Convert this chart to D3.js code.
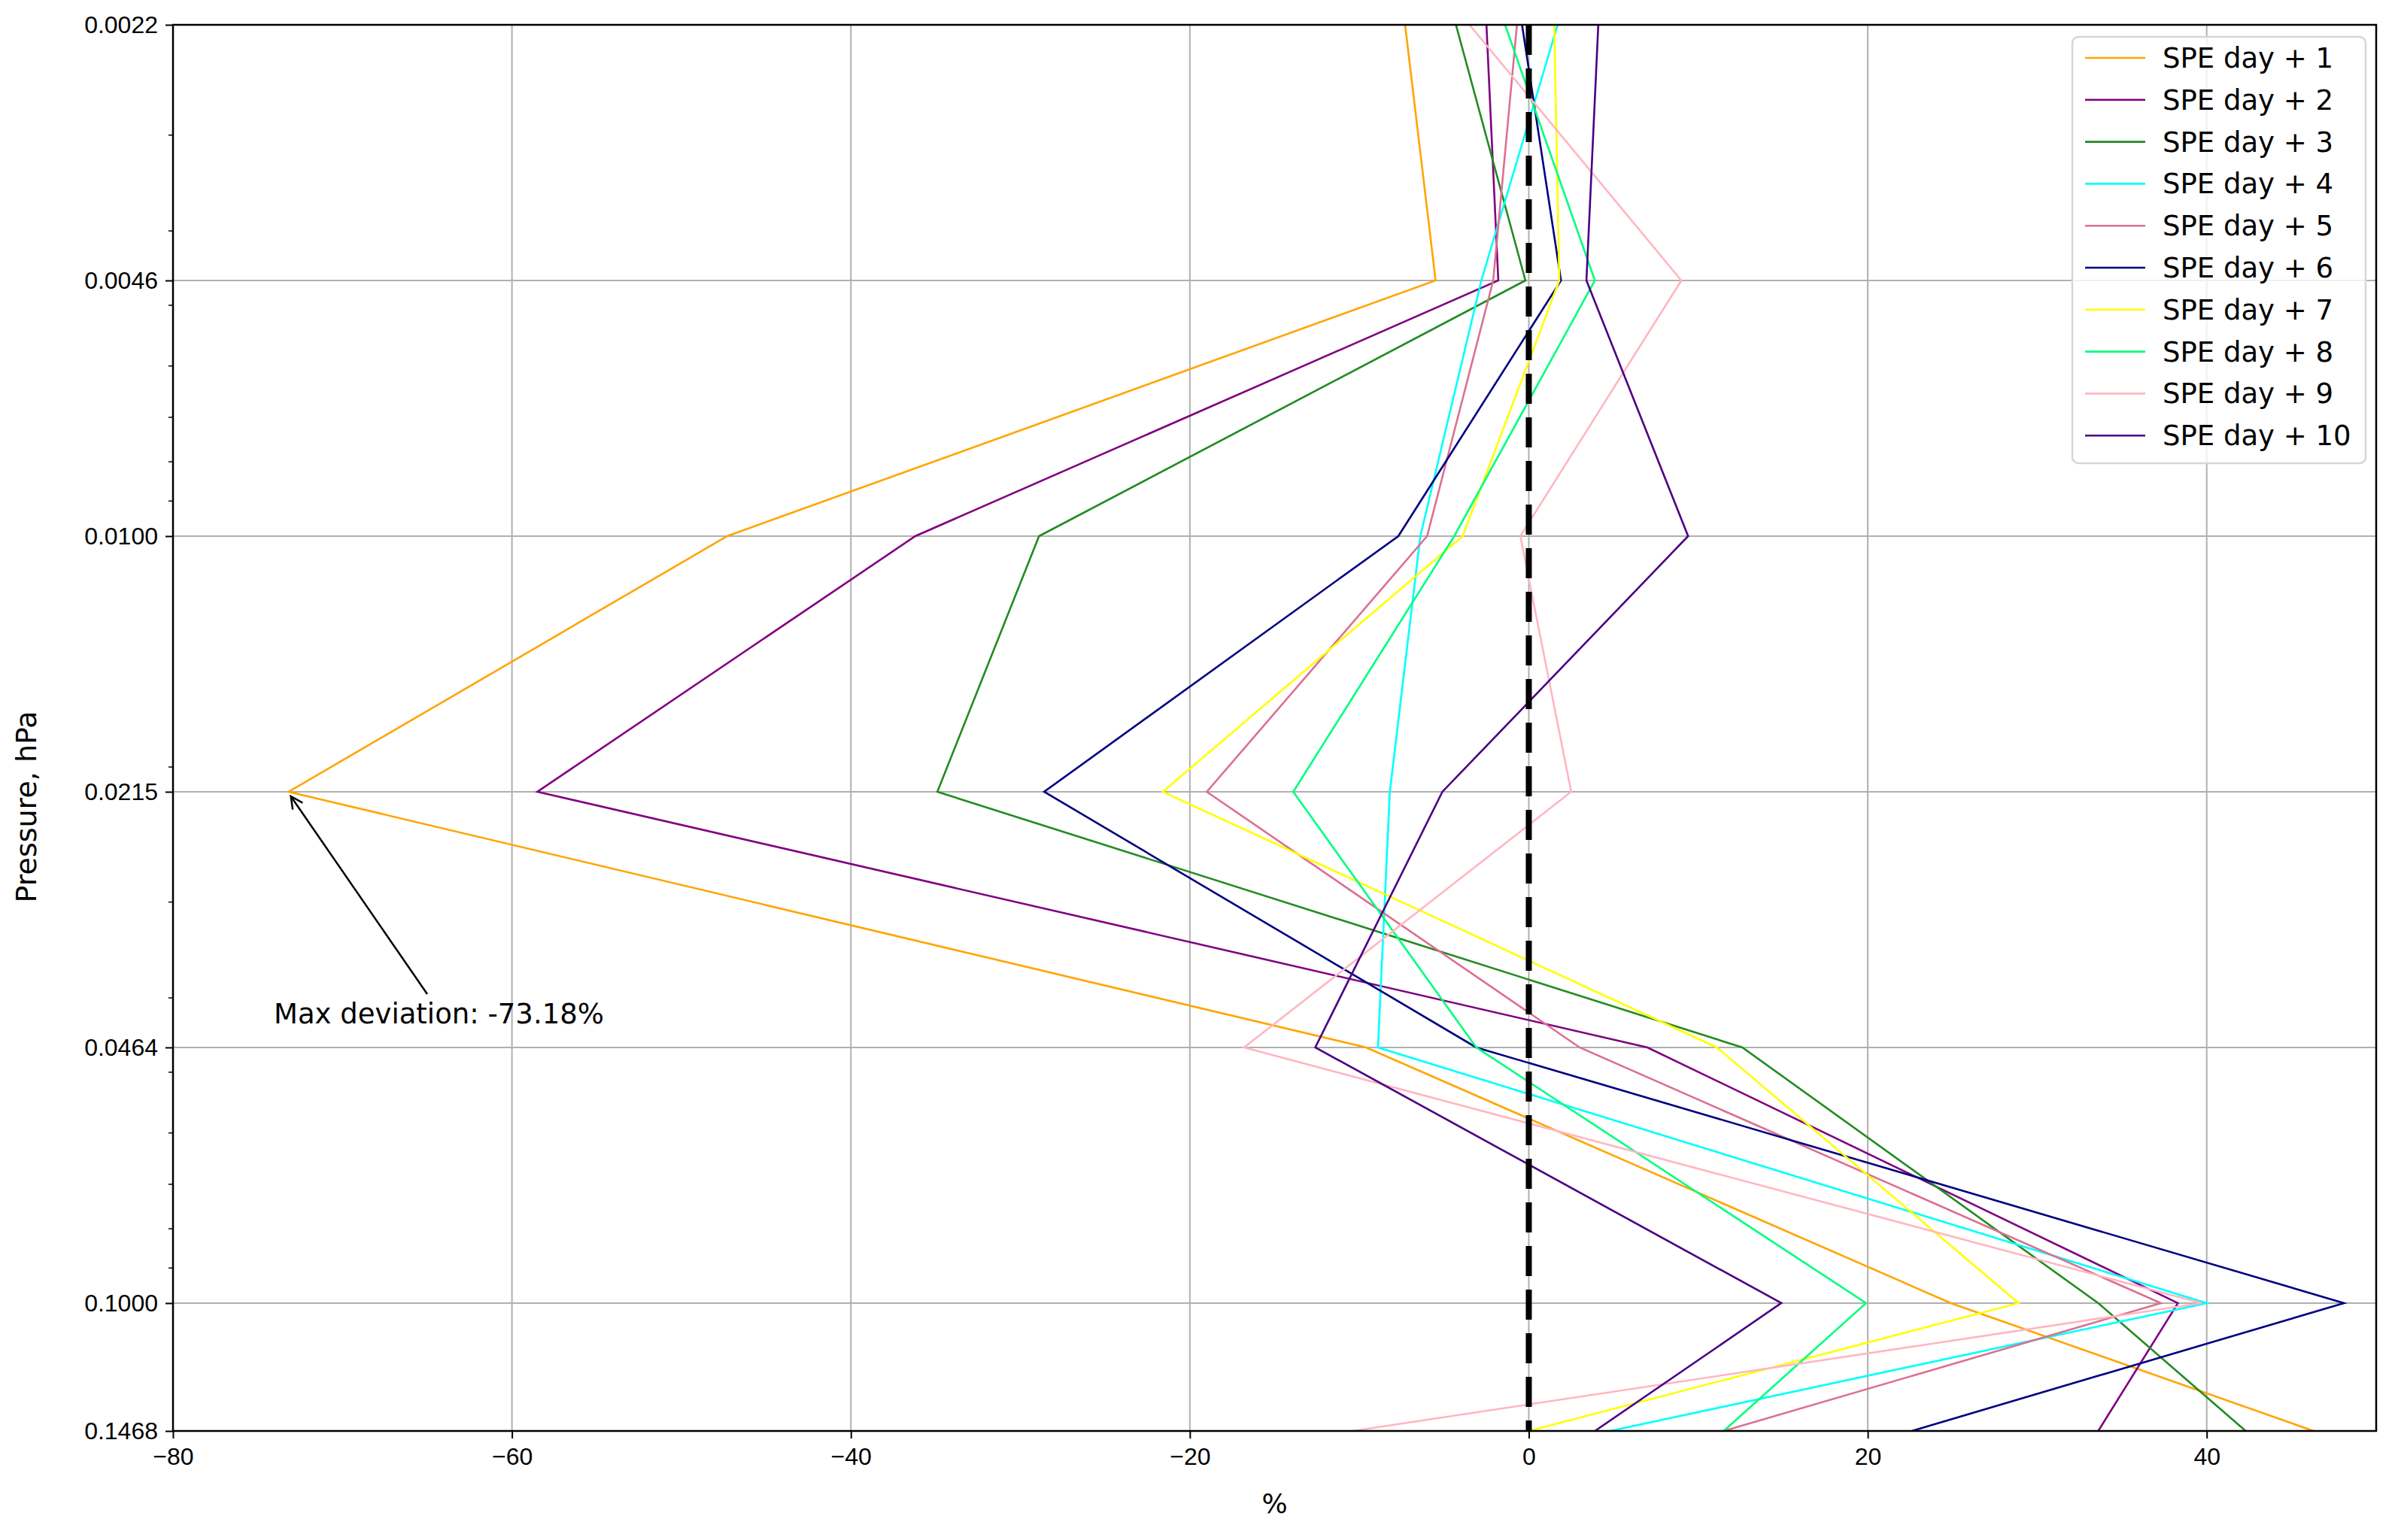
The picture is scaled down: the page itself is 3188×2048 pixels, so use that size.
<!DOCTYPE html>
<html><head><meta charset="utf-8">
<script src="https://cdn.jsdelivr.net/npm/d3@7"></script>
<style>body{margin:0;background:#fff}svg{font-family:"DejaVu Sans",sans-serif}</style>
</head><body>
<script>
const levels = [0.0021544, 0.0046416, 0.0100000, 0.0215443, 0.0464159, 0.1000000, 0.1468];
const yTickValues = [0.0021544, 0.0046416, 0.0100000, 0.0215443, 0.0464159, 0.1000000, 0.1468];
const xTickValues = [-80, -60, -40, -20, 0, 20, 40];
const seriesNames = ["SPE day + 1","SPE day + 2","SPE day + 3","SPE day + 4","SPE day + 5","SPE day + 6","SPE day + 7","SPE day + 8","SPE day + 9","SPE day + 10"];
const seriesColors = ["orange","purple","forestgreen","cyan","palevioletred","navy","yellow","springgreen","lightpink","indigo"];
const day1  = [-7.3, -5.5, -47.3, -73.18, -9.6, 24.9, 46.3];
const day2  = [-2.5, -1.8, -36.2, -58.5, 7.0, 38.3, 33.6];
const day3  = [-4.3, -0.2, -28.9, -34.9, 12.6, 33.6, 42.3];
const day4  = [1.7, -2.8, -6.4, -8.2, -8.9, 40.0, 4.8];
const day5  = [-0.7, -2.1, -6.0, -19.0, 3.0, 37.3, 11.5];
const day6  = [-0.4, 1.9, -7.7, -28.6, -3.1, 48.1, 22.6];
const day7  = [1.5, 1.8, -3.9, -21.6, 11.1, 28.9, 0.0];
const day8  = [-1.4, 3.9, -4.4, -13.9, -3.1, 19.9, 11.5];
const day9  = [-3.5, 9.0, -0.5, 2.5, -16.8, 39.7, -10.4];
const day10 = [4.1, 3.4, 9.4, -5.1, -12.6, 14.9, 3.9];
const seriesValues = [day1,day2,day3,day4,day5,day6,day7,day8,day9,day10];

const W=3188,H=2048, L=230,R=3159,T=33,B=1903;
const svg=d3.select("body").append("svg").attr("width",W).attr("height",H);
const x=d3.scaleLinear().domain([-80,50]).range([L,R]);
const y=d3.scaleLog().domain([0.0021544,0.1468]).range([T,B]);

svg.append("g").selectAll("line").data(xTickValues).join("line")
 .attr("x1",d=>x(d)).attr("x2",d=>x(d)).attr("y1",T).attr("y2",B).attr("stroke","#b0b0b0").attr("stroke-width",2);
svg.append("g").selectAll("line").data(yTickValues).join("line")
 .attr("y1",d=>y(d)).attr("y2",d=>y(d)).attr("x1",L).attr("x2",R).attr("stroke","#b0b0b0").attr("stroke-width",2);

const xa=svg.append("g").attr("transform",`translate(0,${B})`).call(d3.axisBottom(x).tickValues(xTickValues).tickSize(10).tickPadding(12).tickFormat(d=>d<0?"\u2212"+Math.abs(d):d));
const ya=svg.append("g").attr("transform",`translate(${L},0)`).call(d3.axisLeft(y).tickValues(yTickValues).tickSize(10).tickPadding(10).tickFormat(d3.format(".4f")));
[xa,ya].forEach(a=>{a.select(".domain").remove();a.selectAll("text").attr("font-size",32).attr("fill","#000");a.selectAll("line").attr("stroke","#000").attr("stroke-width",2);});
const minors=[];
for(let e=-3;e<=-1;e++)for(let k=1;k<10;k++){const v=k*Math.pow(10,e);if(v>0.00216&&v<0.1468&&!yTickValues.some(t=>Math.abs(t-v)/v<0.02))minors.push(v);}
svg.append("g").selectAll("line").data(minors).join("line").attr("x1",L-6).attr("x2",L).attr("y1",d=>y(d)).attr("y2",d=>y(d)).attr("stroke","#000").attr("stroke-width",1.5);

svg.append("clipPath").attr("id","c").append("rect").attr("x",L).attr("y",T).attr("width",R-L).attr("height",B-T);
const g=svg.append("g").attr("clip-path","url(#c)");
const line=d3.line().x(d=>x(d[0])).y(d=>y(d[1]));
seriesValues.forEach((vals,i)=>{
 g.append("path").attr("d",line(vals.map((v,j)=>[v,levels[j]]))).attr("fill","none").attr("stroke",seriesColors[i]).attr("stroke-width",2.6);
});
g.append("line").attr("x1",x(0)).attr("x2",x(0)).attr("y1",T).attr("y2",B).attr("stroke","#000").attr("stroke-width",8).attr("stroke-dasharray","40,18");

svg.append("rect").attr("x",L).attr("y",T).attr("width",R-L).attr("height",B-T).attr("fill","none").attr("stroke","#000").attr("stroke-width",2.5);

svg.append("text").attr("x",(L+R)/2).attr("y",2012).attr("text-anchor","middle").attr("font-size",36).text("%");
svg.append("text").attr("transform",`translate(48,${y(0.0215443)+20}) rotate(-90)`).attr("text-anchor","middle").attr("font-size",38).text("Pressure, hPa");

svg.append("defs").append("marker").attr("id","ah").attr("viewBox","0 0 20 20").attr("refX",18).attr("refY",10).attr("markerWidth",20).attr("markerHeight",20).attr("markerUnits","userSpaceOnUse").attr("orient","auto")
 .append("path").attr("d","M2,2 L18,10 L2,18").attr("fill","none").attr("stroke","#000").attr("stroke-width",2.5);
svg.append("line").attr("x1",568).attr("y1",1322).attr("x2",x(-73.18)+3).attr("y2",y(0.0215443)+6).attr("stroke","#000").attr("stroke-width",2.5).attr("marker-end","url(#ah)");
svg.append("text").attr("x",364).attr("y",1361).attr("font-size",37).text("Max deviation: -73.18%");

const lg=svg.append("g");
lg.append("rect").attr("x",2755).attr("y",49).attr("width",390).attr("height",567).attr("rx",8).attr("fill","rgba(255,255,255,0.8)").attr("stroke","#d6d6d6").attr("stroke-width",2.5);
seriesNames.forEach((n,i)=>{
 const yy=77+i*55.8;
 lg.append("line").attr("x1",2772).attr("x2",2852).attr("y1",yy).attr("y2",yy).attr("stroke",seriesColors[i]).attr("stroke-width",2.6);
 lg.append("text").attr("x",2875).attr("y",yy+13).attr("font-size",37).text(n);
});
</script>
</body></html>
